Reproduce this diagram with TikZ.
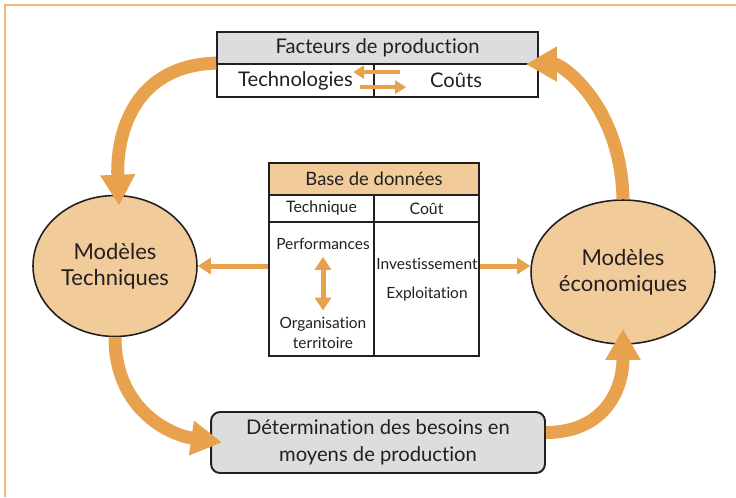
\documentclass[tikz,border=0pt]{standalone}
\usepackage{fontspec}
\setmainfont{Lato}[Ligatures=NoCommon]
\usetikzlibrary{shapes.geometric,arrows.meta}
\definecolor{orangefl}{HTML}{E8A24E}
\definecolor{peche}{HTML}{F1CB9A}
\definecolor{grisbox}{HTML}{DCDDDF}
\definecolor{cadre}{HTML}{F2B77A}
\definecolor{encre}{HTML}{231F20}
\begin{document}
\begin{tikzpicture}[x=0.02cm,y=-0.02cm]
\tikzstyle{cell}=[draw=encre, line width=1pt, rectangle, inner sep=0pt, text=encre]
\tikzstyle{tx}=[draw=none, fill=none, text=encre, align=center, inner sep=1pt]
\tikzstyle{modele}=[ellipse, draw=encre, line width=0.9pt, fill=peche, text=encre, align=center, inner sep=0pt, font=\fontsize{12.5}{15}\selectfont]
\tikzstyle{grosse}=[line width=0.26cm, draw=orangefl, -{Triangle[width=0.66cm,length=0.62cm]}]
\tikzstyle{petite}=[line width=0.1cm, draw=orangefl, -{Triangle[width=0.32cm,length=0.26cm]}]
\tikzstyle{mini}=[line width=0.08cm, draw=orangefl, -{Triangle[width=0.26cm,length=0.22cm]}]
\useasboundingbox (0,0) rectangle (736,497);
\draw[cadre, line width=0.04cm] (5,497) -- (5,5) -- (736,5);

% facteurs de production
\node[cell, fill=grisbox, minimum width=6.42cm, minimum height=0.64cm, font=\fontsize{11.5}{14}\selectfont] (fhead) at (377.5,48) {Facteurs de production};
\node[cell, fill=white, minimum width=3.14cm, minimum height=0.66cm, font=\fontsize{11.5}{14}\selectfont] (ftech) at (295.5,80.5) {Technologies};
\node[cell, fill=white, minimum width=3.28cm, minimum height=0.66cm, font=\fontsize{11.5}{14}\selectfont] (fcout) at (456,80.5) {Coûts};
\draw[mini] ([shift={(27,9)}]fcout.north west) -- ([shift={(-20,9)}]fcout.north west);
\draw[mini] ([shift={(-13,24)}]fcout.north west) -- ([shift={(33,24)}]fcout.north west);

% base de donnees
\node[cell, fill=peche, minimum width=4.2cm, minimum height=0.64cm, font=\fontsize{10.5}{13}\selectfont] (bhead) at (374,179) {Base de données};
\node[cell, fill=white, minimum width=2.1cm, minimum height=0.54cm, font=\fontsize{9}{11}\selectfont] (btech) at (321.5,208.5) {Technique};
\node[cell, fill=white, minimum width=2.1cm, minimum height=0.54cm, font=\fontsize{9}{11}\selectfont] (bcout) at (426.5,208.5) {Coût};
\node[cell, fill=white, minimum width=2.1cm, minimum height=2.68cm] (bgauche) at (321.5,289) {};
\node[cell, fill=white, minimum width=2.1cm, minimum height=2.68cm] (bdroite) at (426.5,289) {};
\node[tx, font=\fontsize{8.8}{11}\selectfont] (perf) at (323,244) {Performances};
\node[tx, font=\fontsize{8.8}{11}\selectfont] (orga) at (323,333) {Organisation\\territoire};
\node[tx, font=\fontsize{8.8}{11}\selectfont] (invest) at (427,264) {Investissement};
\node[tx, font=\fontsize{8.8}{11}\selectfont] (exploit) at (427,294) {Exploitation};
\draw[petite, {Triangle[width=0.32cm,length=0.26cm]}-{Triangle[width=0.32cm,length=0.26cm]}, shorten <=0.1cm, shorten >=0.1cm] (perf.south) -- (orga.north);

% modeles
\node[modele, minimum width=3.28cm, minimum height=2.82cm] (modtech) at (115,266) {Modèles\\Techniques};
\node[modele, minimum width=3.68cm, minimum height=2.88cm] (modeco) at (623,272) {Modèles\\économiques};
\node[cell, fill=grisbox, rounded corners=0.18cm, line width=1.1pt, minimum width=6.68cm, minimum height=1.22cm, align=center, font=\fontsize{11.5}{15.5}\selectfont] (besoins) at (378,442.5) {Détermination des besoins en\\moyens de production};

\draw[petite] (bgauche.west |- modtech.east) -- (modtech.east);
\draw[petite] (bdroite.east |- modtech.east) -- (modeco.west |- modtech.east);

\draw[grosse] (ftech.north west) .. controls +(-80,2) and +(-3,-75) .. ([shift={(4,11)}]modtech.north);
\draw[grosse] (modeco.north) .. controls +(-2,-95) and +(35,0) .. ([shift={(-13,1)}]fcout.north east);
\draw[grosse] (modtech.south) .. controls +(0,70) and +(-55,-8) .. ([xshift=0.24cm]besoins.west);
\draw[grosse] ([yshift=0.2cm]besoins.east) .. controls +(55,0) and +(0,65) .. ([yshift=0.32cm]modeco.south);
\end{tikzpicture}
\end{document}
